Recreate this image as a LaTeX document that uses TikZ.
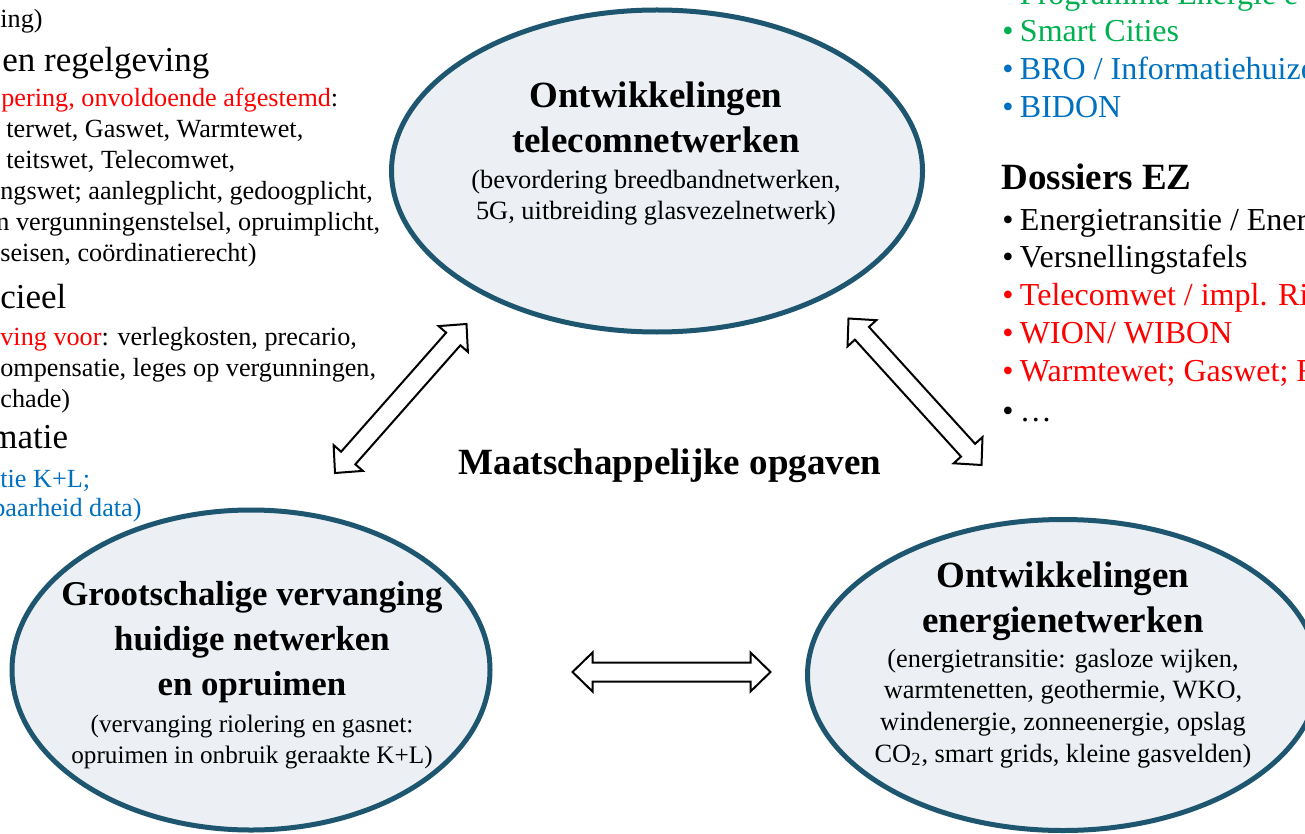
\documentclass[tikz,border=0pt]{standalone}
\usepackage{fontspec}
\setmainfont{Liberation Serif}
\usetikzlibrary{shapes.geometric, calc}

\definecolor{rand}{RGB}{30,86,112}
\definecolor{vlak}{RGB}{236,240,244}
\definecolor{rood}{RGB}{255,0,0}
\definecolor{blauw}{RGB}{0,112,192}
\definecolor{groen}{RGB}{0,176,80}

\tikzset{
  netwerk/.style={ellipse, draw=rand, fill=vlak, line width=2.5pt, inner sep=0pt},
  titel/.style={font=\fontsize{18.5}{22.5}\selectfont\bfseries, align=center, anchor=base, inner sep=0pt},
  uitleg/.style={font=\fontsize{13.2}{15.8}\selectfont, align=center, anchor=base, inner sep=0pt},
  regel/.style={font=\fontsize{13.1}{15.5}\selectfont, anchor=base west, inner sep=0pt},
  kop/.style={font=\fontsize{17.5}{21}\selectfont, anchor=base west, inner sep=0pt},
  lijst/.style={font=\fontsize{16}{19}\selectfont, anchor=base west, inner sep=0pt},
  pijl/.style={draw=black, fill=white, line width=1pt, line join=miter}
}

\newcommand{\bul}{\textbullet\hspace{0.2em}}
% holle dubbele pijl tussen twee coordinaten
\newcommand{\holpijl}[2]{%
  \draw[pijl] (#1)
    -- ($($(#1)!10pt!(#2)$)!9.75pt!90:(#2)$)
    -- ($($(#1)!10pt!(#2)$)!4.75pt!90:(#2)$)
    -- ($($(#2)!10pt!(#1)$)!4.75pt!-90:(#1)$)
    -- ($($(#2)!10pt!(#1)$)!9.75pt!-90:(#1)$)
    -- (#2)
    -- ($($(#2)!10pt!(#1)$)!9.75pt!90:(#1)$)
    -- ($($(#2)!10pt!(#1)$)!4.75pt!90:(#1)$)
    -- ($($(#1)!10pt!(#2)$)!4.75pt!-90:(#2)$)
    -- ($($(#1)!10pt!(#2)$)!9.75pt!-90:(#2)$)
    -- cycle;}

\begin{document}
\begin{tikzpicture}[x=0.5pt, y=-0.5pt]
    \useasboundingbox (0,0) rectangle (1305,834);
    \fill[white] (0,0) rectangle (1305,834);
    \clip (0,0) rectangle (1305,834);

    % linker tekst
    \node[regel] (l1) at (0,28) {ing)};
    \node[kop] (l2) at (2,72) {en regelgeving};
    \node[regel] (l3) at (1,107) {\textcolor{rood}{pering, onvoldoende afgestemd}:};
    \node[regel] (l4) at (6,138) {terwet, Gaswet, Warmtewet,};
    \node[regel] (l5) at (6,169) {teitswet, Telecomwet,};
    \node[regel] (l6) at (0,200) {ngswet; aanlegplicht, gedoogplicht,};
    \node[regel] (l7) at (-4,231) {n vergunningenstelsel, opruimplicht,};
    \node[regel] (l8) at (0,262) {seisen, coördinatierecht)};
    \node[kop] (l9) at (0,308) {cieel};
    \node[regel] (l10) at (0,345) {\textcolor{rood}{ving voor}: verlegkosten, precario,};
    \node[regel] (l11) at (0,376) {ompensatie, leges op vergunningen,};
    \node[regel] (l12) at (0,407) {chade)};
    \node[kop] (l13) at (-10,448) {matie};
    \node[regel, text=blauw] (l14) at (0,487) {tie K+L;};
    \node[regel, text=blauw] (l15) at (-8,516) {baarheid data)};

    % rechter tekst
    \node[lijst, text=groen] (r1) at (1002,5) {\bul Programma Energie e};
    \node[lijst, text=groen] (r2) at (1002,42) {\bul Smart Cities};
    \node[lijst, text=blauw] (r3) at (1002,80) {\bul BRO / Informatiehuize};
    \node[lijst, text=blauw] (r4) at (1002,118) {\bul BIDON};
    \node[lijst, font=\fontsize{18.5}{22}\selectfont\bfseries] (ez) at (1001,190) {Dossiers EZ};
    \node[lijst] (r5) at (1002,230) {\bul Energietransitie / Ener};
    \node[lijst] (r6) at (1002,267) {\bul Versnellingstafels};
    \node[lijst, text=rood] (r7) at (1002,305) {\bul Telecomwet / impl. Ri};
    \node[lijst, text=rood] (r8) at (1002,343) {\bul WION/ WIBON};
    \node[lijst, text=rood] (r9) at (1002,381) {\bul Warmtewet; Gaswet; F};
    \node[lijst] (r10) at (1002,421) {\bul \ldots};

    % ellipsen
    \node[netwerk, minimum width=265.5pt, minimum height=161pt] (tele) at (657,171) {};
    \node[netwerk, minimum width=239pt, minimum height=160pt] (vervang) at (251,670) {};
    \node[netwerk, minimum width=255.5pt, minimum height=155.5pt] (energie) at (1063,675) {};

    \node[titel] (teletitel) at (656,153) {Ontwikkelingen\\telecomnetwerken};
    \node[uitleg] (teletekst) at (656,220) {(bevordering breedbandnetwerken,\\5G, uitbreiding glasvezelnetwerk)};
    \node[titel, font=\fontsize{17.4}{22.5}\selectfont\bfseries] (vervangtitel) at (252,695) {Grootschalige vervanging\\huidige netwerken\\en opruimen};
    \node[uitleg, font=\fontsize{12.6}{15.5}\selectfont] (vervangtekst) at (252,763) {(vervanging riolering en gasnet:\\opruimen in onbruik geraakte K+L)};
    \node[titel] (energietitel) at (1063,632) {Ontwikkelingen\\energienetwerken};
    \node[uitleg] (energietekst) at (1063,762) {(energietransitie: gasloze wijken,\\warmtenetten, geothermie, WKO,\\windenergie, zonneenergie, opslag\\CO\textsubscript{2}, smart grids, kleine gasvelden)};

    \node[titel] (opgaven) at (670,474) {Maatschappelijke opgaven};

    % pijlen
    \coordinate (lo) at (335,473);
    \coordinate (lb) at (466.5,324);
    \coordinate (rb) at (848.5,318.5);
    \coordinate (ro) at (981.5,465);
    \coordinate (ml) at (572.5,672);
    \coordinate (mr) at (770.5,672);
    \holpijl{lo}{lb}
    \holpijl{rb}{ro}
    \holpijl{ml}{mr}
\end{tikzpicture}
\end{document}
